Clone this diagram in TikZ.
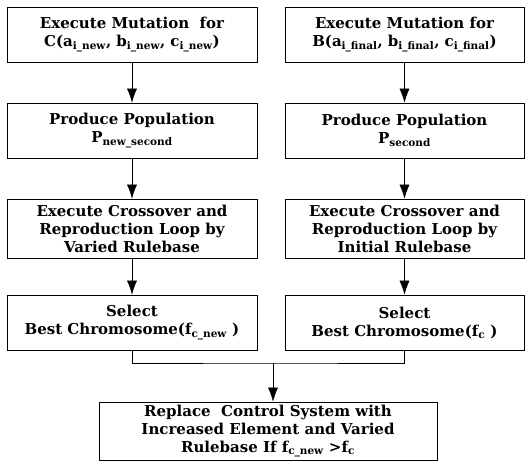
\documentclass[tikz,border=0pt]{standalone}
\usepackage{fontspec}
\setmainfont{DejaVu Serif}
\usepackage{tikz}
\usetikzlibrary{arrows.meta}

\begin{document}
\begin{tikzpicture}[%
		x=1pt,y=-1pt,
		font=\fontsize{15}{18}\selectfont\bfseries,
		box/.style={%
			draw,%
			thick,%
			align=center,%
			inner sep=0pt,%
			minimum height=55pt},%
		boxL/.style={box,minimum width=250pt},%
		boxR/.style={box,minimum width=239pt},%
		flow/.style={thin,-{Latex[length=14pt,width=10pt]}}
		]

		\useasboundingbox (0,0) rectangle (527,461);
		% left column
		\node[boxL] (mutL) at (132,34.5) {Execute Mutation\ \ for\\C(a\textsubscript{i\_new}, b\textsubscript{i\_new}, c\textsubscript{i\_new})};
		\node[boxL] (popL) at (132,130.5) {Produce Population\\P\textsubscript{new\_second}};
		\node[boxL,minimum height=59pt] (crossL) at (132,228.5) {Execute Crossover and\\Reproduction Loop by\\Varied Rulebase};
		\node[boxL] (selL) at (132,322.5) {Select\\Best Chromosome(f\textsubscript{c\_new} )};
		% right column
		\node[boxR] (mutR) at (404.5,34.5) {Execute Mutation for\\B(a\textsubscript{i\_final}, b\textsubscript{i\_final}, c\textsubscript{i\_final})};
		\node[boxR] (popR) at (404.5,130.5) {Produce Population\\P\textsubscript{second}};
		\node[boxR,minimum height=59pt] (crossR) at (404.5,228.5) {Execute Crossover and\\Reproduction Loop by\\Initial Rulebase};
		\node[boxR] (selR) at (404.5,322.5) {Select\\Best Chromosome(f\textsubscript{c} )};
		% final decision
		\node[box,minimum width=338pt,minimum height=58pt] (repl) at (268,431) {Replace\ \ Control System with\\Increased Element and Varied\\Rulebase If f\textsubscript{c\_new} >f\textsubscript{c}};
		\coordinate (join) at (273,363);

		% arrows
		\draw[flow] (mutL) -- (popL);
		\draw[flow] (popL) -- (crossL);
		\draw[flow] (crossL) -- (selL);
		\draw[flow] (mutR) -- (popR);
		\draw[flow] (popR) -- (crossR);
		\draw[flow] (crossR) -- (selR);
		\draw[thin] (selL.south) |- (join) -| (selR.south);
		\draw[flow] (join) -- (join |- repl.north);
	\end{tikzpicture}
\end{document}
